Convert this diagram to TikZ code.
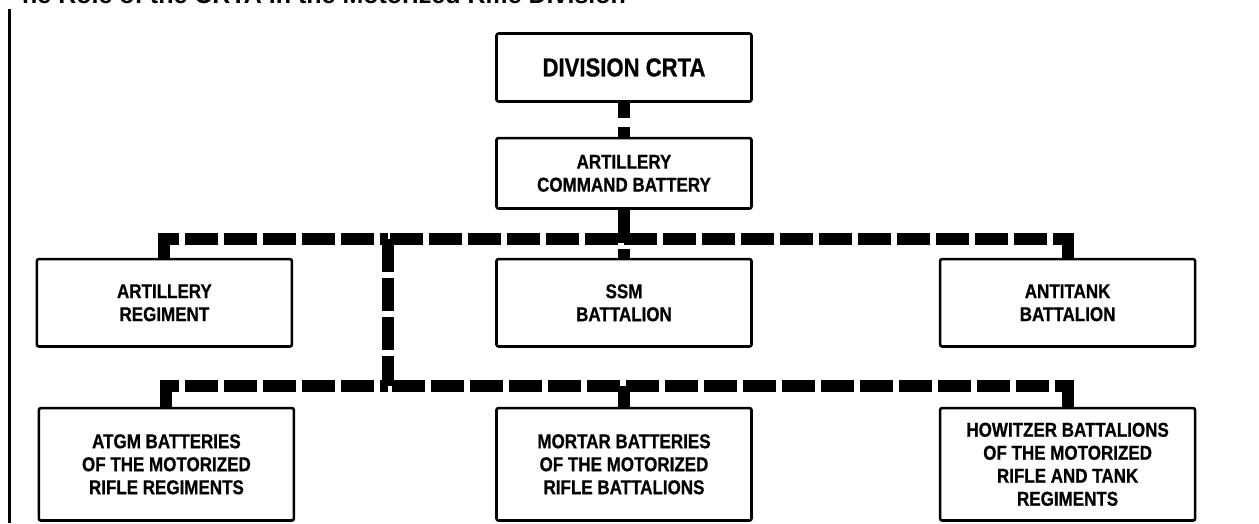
\documentclass[tikz,border=0pt]{standalone}
\usepackage{fontspec}
\newfontfamily\orgfont{Liberation Sans}[FakeStretch=0.85, BoldFeatures={FakeBold=0.7}]
\newfontfamily\titlefont{Liberation Sans}
\usetikzlibrary{positioning}

\begin{document}
\begin{tikzpicture}[
    x=1pt, y=1pt,
    font=\orgfont\bfseries\fontsize{20}{23}\selectfont,
    node distance=40pt,
    % 单位方框：粗黑边框，统一宽度
    unit/.style={rectangle, rounded corners=2pt, draw=black, line width=2.6pt, minimum width=255pt, inner sep=2pt, align=center},
    bigunit/.style={unit, font=\orgfont\bfseries\fontsize{26}{30}\selectfont},
    % 粗虚线连接
    bus/.style={draw=black, line width=12pt, dash pattern=on 33pt off 6pt, line join=miter}
]
\useasboundingbox (0,0) rectangle (1259,-523);

% 标题（上半部分被裁掉）
\node[anchor=base west, inner sep=0pt, font=\titlefont\bfseries\fontsize{25}{30}\selectfont] (title) at (22,-3) {he Role of the CRTA in the Motorized Rifle Division};

% 左侧竖线
\coordinate (ruletop) at (9,-9);
\coordinate (rulebot) at (9,-523);
\draw[line width=3pt] (ruletop) -- (rulebot);

% 上层指挥
\node[bigunit, minimum height=68pt] (crta) at (624,-67.5) {DIVISION CRTA};
\node[unit, minimum height=70.4pt, below=34pt of crta] (acb) {ARTILLERY\\COMMAND BATTERY};

% 中间一排
\node[unit, minimum height=87.4pt, below=48pt of acb] (ssm) {SSM\\BATTALION};
\node[unit, minimum height=87.4pt, left=202pt of ssm] (artreg) {ARTILLERY\\REGIMENT};
\node[unit, minimum height=87.4pt, right=186pt of ssm] (antitank) {ANTITANK\\BATTALION};

% 下面一排
\node[unit, minimum height=112.4pt, below=59pt of ssm] (mortar) {MORTAR BATTERIES\\OF THE MOTORIZED\\RIFLE BATTALIONS};
\node[unit, minimum height=112.4pt, left=200pt of mortar] (atgm) {ATGM BATTERIES\\OF THE MOTORIZED\\RIFLE REGIMENTS};
\node[unit, minimum height=112.4pt, right=186pt of mortar] (howitzer) {HOWITZER BATTALIONS\\OF THE MOTORIZED\\RIFLE AND TANK\\REGIMENTS};

% 两条横向总线
\coordinate (topbus) at (388,-239);
\coordinate (lowbus) at (388,-386);

\draw[bus, dash pattern=on 15pt off 9pt] (crta.south) -- (acb.north);
\draw[bus] (acb.south) -- (ssm.north);

\draw[bus] (artreg.north) |- (topbus);
\draw[bus] (antitank.north) |- (topbus);
\draw[bus] (topbus) -- (lowbus);

\draw[bus] (atgm.north) |- (lowbus);
\draw[bus] (howitzer.north) |- (lowbus);
\draw[bus] (lowbus -| mortar.north) -- (mortar.north);

\end{tikzpicture}
\end{document}
